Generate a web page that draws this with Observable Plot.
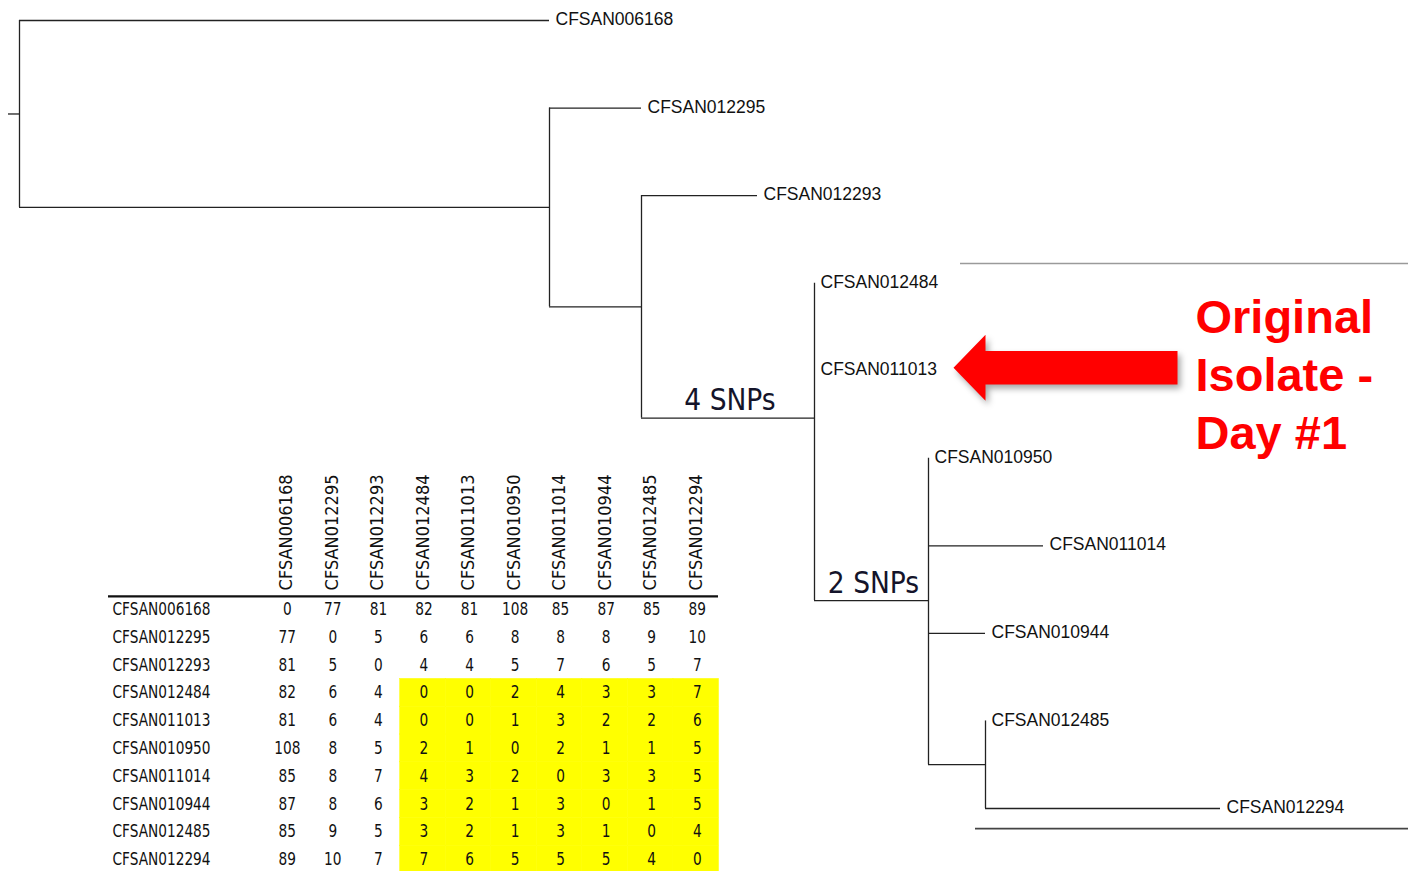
<!DOCTYPE html>
<html>
<head>
<meta charset="utf-8">
<script src="https://cdn.jsdelivr.net/npm/d3@7"></script>
<script src="https://cdn.jsdelivr.net/npm/@observablehq/plot@0.6"></script>
<style>
  html, body { margin: 0; padding: 0; background: #fff; }
  #wrap { position: relative; width: 1408px; height: 871px; overflow: hidden; background: #fff; }
  #wrap > svg { position: absolute; left: 0; top: 0; }
  #wrap > svg.table { top: 460px; }
</style>
</head>
<body>
<div id="wrap"></div>
<script>
// ---------------- DATA ----------------
// Phylogenetic tree (branch lengths in relative tree units)
const nodeIds      = ["root","CFSAN006168","A","CFSAN012295","B","CFSAN012293","C","CFSAN012484","CFSAN011013","D","CFSAN010950","CFSAN011014","CFSAN010944","E","CFSAN012485","CFSAN012294"];
const nodeParents  = [null,  "root",       "root","A",        "A","B",          "B","C",          "C",          "C","D",          "D",          "D",          "D","E",          "E"];
const branchLengths= [0,     5.30,         5.30,  0.92,       0.92,1.16,        1.73,0,           0,            1.14,0,           1.15,         0.57,         0.57,0,           2.35];
const rootStub = 0.11;
const branchNotes = [{node: "C", label: "4 SNPs"}, {node: "D", label: "2 SNPs"}];

// SNP distance matrix
const isolates = ["CFSAN006168","CFSAN012295","CFSAN012293","CFSAN012484","CFSAN011013","CFSAN010950","CFSAN011014","CFSAN010944","CFSAN012485","CFSAN012294"];
const snpMatrix = [
  [0, 77, 81, 82, 81, 108, 85, 87, 85, 89],
  [77, 0, 5, 6, 6, 8, 8, 8, 9, 10],
  [81, 5, 0, 4, 4, 5, 7, 6, 5, 7],
  [82, 6, 4, 0, 0, 2, 4, 3, 3, 7],
  [81, 6, 4, 0, 0, 1, 3, 2, 2, 6],
  [108, 8, 5, 2, 1, 0, 2, 1, 1, 5],
  [85, 8, 7, 4, 3, 2, 0, 3, 3, 5],
  [87, 8, 6, 3, 2, 1, 3, 0, 1, 5],
  [85, 9, 5, 3, 2, 1, 3, 1, 0, 4],
  [89, 10, 7, 7, 6, 5, 5, 5, 4, 0]
];
const outbreakCluster = ["CFSAN012484","CFSAN011013","CFSAN010950","CFSAN011014","CFSAN010944","CFSAN012485","CFSAN012294"];

// Callout (in tree units, anchored to a leaf)
const callout = {leaf: "CFSAN011013", text: "Original\nIsolate -\nDay #1", textX: 11.77, tipX: 9.34, neckX: 9.66, tailX: 11.58, headHalf: 0.377, shaftHalf: 0.19, dy: -0.034};
// Decorative separator lines (tree units)
const separators = [
  {y: 2.775, x1: 9.41, x2: 13.9, color: "#9a9a9a"},
  {y: 9.23,  x1: 9.56, x2: 13.9, color: "#444"}
];

// ---------------- TREE ----------------
const rows = nodeIds.map((id, i) => ({id, parent: nodeParents[i], len: branchLengths[i]}));
const root = d3.stratify().id(d => d.id).parentId(d => d.parent)(rows);
root.eachBefore(n => { n.x = (n.parent ? n.parent.x : 0) + n.data.len; });
const leaves = root.leaves();
leaves.forEach((l, i) => { l.y = i; });
root.eachAfter(n => { if (n.children) n.y = d3.mean(n.children, c => c.y); });

const horiz = root.descendants().filter(n => n.parent && n.data.len > 0)
  .map(n => ({x1: n.parent.x, x2: n.x, y: n.y}));
horiz.push({x1: -rootStub, x2: 0, y: root.y});
const vert = root.descendants().filter(n => n.children)
  .map(n => ({x: n.x, y1: d3.min(n.children, c => c.y), y2: d3.max(n.children, c => c.y)}));
const notes = branchNotes.map(b => {
  const n = root.descendants().find(d => d.id === b.node);
  return {x: (n.parent.x + n.x) / 2, y: n.y, label: b.label};
});
const anchorLeaf = leaves.find(l => l.id === callout.leaf);
const ay = anchorLeaf.y + callout.dy;
const arrowPts = [
  [callout.tipX, ay],
  [callout.neckX, ay - callout.headHalf],
  [callout.neckX, ay - callout.shaftHalf],
  [callout.tailX, ay - callout.shaftHalf],
  [callout.tailX, ay + callout.shaftHalf],
  [callout.neckX, ay + callout.shaftHalf],
  [callout.neckX, ay + callout.headHalf],
  [callout.tipX, ay]
];

const treeSvg = Plot.plot({
  width: 1408, height: 871,
  margin: 0,
  x: {domain: [0, 12], range: [19, 1219], axis: null},
  y: {domain: [0, 9], range: [20, 808], axis: null},
  style: {background: "transparent"},
  marks: [
    Plot.ruleY(separators, {y: "y", x1: "x1", x2: "x2", stroke: d => d.color, strokeWidth: 1.6}),
    Plot.ruleY(horiz, {y: "y", x1: "x1", x2: "x2", stroke: "#222", strokeWidth: 1.3}),
    Plot.ruleX(vert, {x: "x", y1: "y1", y2: "y2", stroke: "#222", strokeWidth: 1.3}),
    Plot.text(leaves, {x: "x", y: "y", text: d => d.id, dx: 6, dy: -1, textAnchor: "start",
      fontSize: 17.5, fontFamily: "Liberation Sans, Arial, sans-serif", fill: "#111"}),
    Plot.text(notes, {x: "x", y: "y", text: "label", dx: 2, dy: -8, lineAnchor: "bottom",
      fontSize: 29.5, fontFamily: "DejaVu Sans Condensed, DejaVu Sans, sans-serif", fill: "#14142a"}),
    Plot.line(arrowPts, {x: d => d[0], y: d => d[1], fill: "#ff0000", stroke: "none", curve: "linear"}),
    Plot.text([callout], {x: "textX", y: () => anchorLeaf.y, text: "text", dx: -1, dy: 2, textAnchor: "start",
      lineAnchor: "middle", lineHeight: 1.23, fontSize: 47, fontWeight: "bold",
      fontFamily: "Liberation Sans, Arial, sans-serif", fill: "#ff0000"})
  ]
});
treeSvg.querySelectorAll('g[aria-label="line"] path').forEach(p => {
  p.style.filter = "drop-shadow(3px 4px 3px rgba(0,0,0,0.35))";
});

// ---------------- TABLE ----------------
const cells = [];
isolates.forEach((r, i) => isolates.forEach((c, j) => cells.push({row: r, col: c, value: snpMatrix[i][j]})));
const hl = cells.filter(d => outbreakCluster.includes(d.row) && outbreakCluster.includes(d.col));

const tableFont = "DejaVu Sans Condensed, DejaVu Sans, sans-serif";
const tableSvg = Plot.plot({
  width: 740, height: 411,
  marginLeft: 108, marginRight: 22, marginTop: 0, marginBottom: 0,
  x: {type: "band", domain: isolates, range: [263, 718.5], padding: 0, round: false, axis: null},
  y: {type: "band", domain: isolates, range: [135, 413], padding: 0, round: false, axis: null},
  style: {background: "transparent"},
  marks: [
    Plot.cell(hl, {x: "col", y: "row", fill: "#ffff00", stroke: "#ffff00", strokeWidth: 0.5, inset: 0}),
    Plot.ruleY([isolates[0]], {y: d => d, dy: -13, stroke: "#111", strokeWidth: 2.2}),
    Plot.text(isolates, {x: d => d, y: () => isolates[0], text: d => d, rotate: -90, dy: -19,
      textAnchor: "start", lineAnchor: "middle", fontSize: 18, fontFamily: tableFont, fill: "#111"}),
    Plot.text(isolates, {y: d => d, text: d => d, frameAnchor: "left", dx: 4, textAnchor: "start",
      fontSize: 17.5, fontFamily: tableFont, fill: "#111"}),
    Plot.text(cells, {x: "col", y: "row", text: "value", dx: 1, fontSize: 17.5, fontFamily: tableFont, fill: "#111"})
  ]
});
tableSvg.classList.add("table");

const wrap = document.getElementById("wrap");
wrap.appendChild(treeSvg);
wrap.appendChild(tableSvg);

// horizontally condense the body text of the table, as in the source figure
const textGroups = tableSvg.querySelectorAll('g[aria-label="text"]');
textGroups.forEach((g, gi) => {
  if (gi === 0) return; // rotated column headers keep their natural width
  g.querySelectorAll("text").forEach(t => {
    const w = t.getComputedTextLength();
    if (w > 0) {
      t.setAttribute("textLength", (w * 0.87).toFixed(2));
      t.setAttribute("lengthAdjust", "spacingAndGlyphs");
    }
  });
});
</script>
</body>
</html>
